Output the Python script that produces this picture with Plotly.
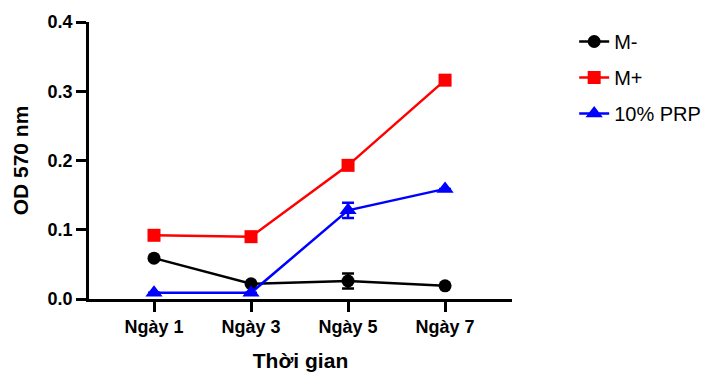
import plotly.graph_objects as go

days = ["Ngày 1", "Ngày 3", "Ngày 5", "Ngày 7"]
m_minus = [0.059, 0.022, 0.026, 0.019]
m_minus_err = [0.0, 0.0, 0.011, 0.0]
m_plus = [0.092, 0.090, 0.193, 0.316]
m_plus_err = [0.0, 0.0, 0.0, 0.0]
prp = [0.009, 0.009, 0.128, 0.159]
prp_err = [0.0, 0.0, 0.011, 0.0]

FONT = "Liberation Sans, Arial, sans-serif"

series = [
    ("M-", m_minus, m_minus_err, "black", "circle", 13),
    ("M+", m_plus, m_plus_err, "#ff0000", "square", 13),
    ("10% PRP", prp, prp_err, "#0000ff", "triangle-up", 15),
]

fig = go.Figure()
for i, (name, vals, errs, col, sym, sz) in enumerate(series):
    fig.add_trace(go.Scatter(
        x=days, y=vals, name=name, mode="lines+markers",
        legendgroup=f"g{i}",
        line=dict(color=col, width=2.5),
        marker=dict(color=col, symbol=sym, size=sz),
        error_y=dict(type="data", array=errs, visible=True,
                     color=col, thickness=2.5, width=6),
    ))

fig.update_layout(
    width=720, height=373,
    margin=dict(l=81, r=216, t=14, b=82, autoexpand=False),
    plot_bgcolor="white", paper_bgcolor="white",
    font=dict(family=FONT, color="black"),
    showlegend=True,
    legend=dict(x=1.147, y=1.0, xanchor="left", yanchor="top",
                font=dict(size=20, family=FONT),
                tracegroupgap=7, itemwidth=30,
                bgcolor="rgba(0,0,0,0)"),
)
fig.update_xaxes(
    type="category", range=[-0.67, 3.69], automargin=False,
    showline=True, linecolor="black", linewidth=2.5,
    ticks="outside", ticklen=10, tickwidth=2.5, tickcolor="black",
    tickfont=dict(size=18, family=FONT, weight="bold"),
    title=dict(text="Thời gian", font=dict(size=21, family=FONT, weight="bold"), standoff=17),
    showgrid=False, zeroline=False,
)
fig.update_yaxes(
    range=[0, 0.4], dtick=0.1, tickformat=".1f", automargin=False,
    showline=True, linecolor="black", linewidth=2.5,
    ticks="outside", ticklen=10, tickwidth=2.5, tickcolor="black",
    tickfont=dict(size=18, family=FONT, weight="bold"),
    title=dict(text="OD 570 nm", font=dict(size=21, family=FONT, weight="bold"), standoff=14),
    showgrid=False, zeroline=False,
)

fig.write_html("out.html")
